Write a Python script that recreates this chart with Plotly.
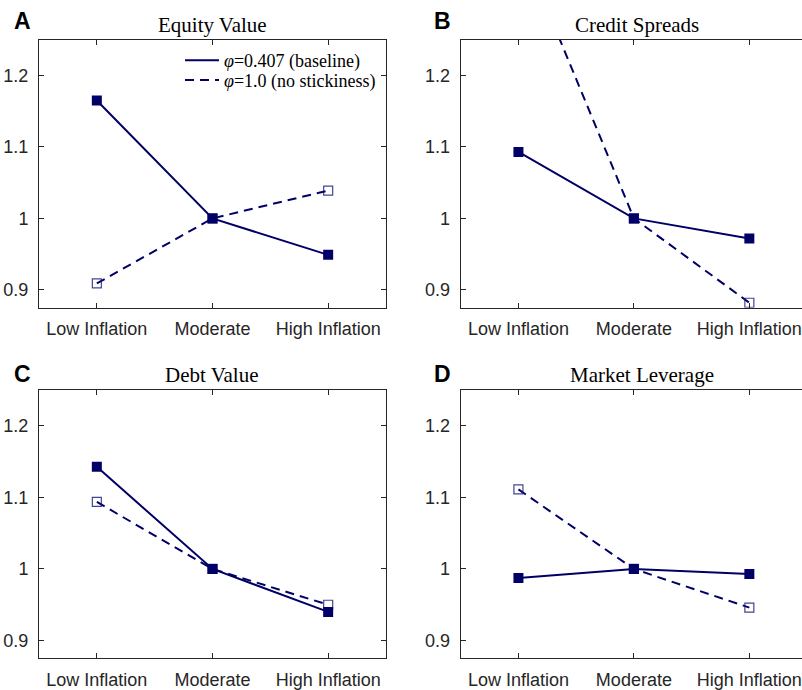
import plotly.graph_objects as go

categories = ["Low Inflation", "Moderate", "High Inflation"]

equity_base = [1.165, 1.0, 0.949]
equity_nostick = [0.909, 1.0, 1.039]
spreads_base = [1.093, 1.0, 0.972]
spreads_nostick = [1.39, 1.0, 0.882]
debt_base = [1.1425, 1.0, 0.940]
debt_nostick = [1.0935, 1.0, 0.950]
lev_base = [0.9875, 1.0, 0.993]
lev_nostick = [1.111, 1.0, 0.946]

panel_titles = ["Equity Value", "Credit Spreads", "Debt Value", "Market Leverage"]
panel_letters = ["A", "B", "C", "D"]
legend_names = ["<i>φ</i>=0.407 (baseline)", "<i>φ</i>=1.0 (no stickiness)"]

y_ticks = [0.9, 1.0, 1.1, 1.2]
y_ticktext = ["0.9", "1", "1.1", "1.2"]

W, H = 802, 690
NAVY = "#000066"
HOLLOW = "rgba(20,20,120,0.8)"
AX = "#262626"

# pixel geometry
left_x = [(39, 386), (460.7, 802), (39, 386), (460.7, 802)]
top_bottom = [(40, 310), (40, 310), (392.7, 663.3), (392.7, 663.3)]
x_ranges = [[-0.5, 2.5], [-0.5, 2.456], [-0.5, 2.5], [-0.5, 2.456]]
title_pos = [(212, 25), (637, 25), (212, 378), (642, 378)]
letter_pos = [(22, 21), (443, 21), (22, 377), (443, 377)]

series = [
    (equity_base, equity_nostick),
    (spreads_base, spreads_nostick),
    (debt_base, debt_nostick),
    (lev_base, lev_nostick),
]

fig = go.Figure()
layout = {}
annotations = []
for i, (base, nost) in enumerate(series):
    n = "" if i == 0 else str(i + 1)
    xa, ya = "x" + n, "y" + n
    fig.add_trace(go.Scatter(
        x=categories, y=nost, xaxis=xa, yaxis=ya, mode="lines+markers",
        line=dict(color=NAVY, width=2, dash="9px,6px"),
        marker=dict(symbol="square-open", size=9, color=HOLLOW, line=dict(width=1.2, color=HOLLOW)),
        showlegend=False, cliponaxis=True))
    fig.add_trace(go.Scatter(
        x=categories, y=base, xaxis=xa, yaxis=ya, mode="lines+markers",
        line=dict(color=NAVY, width=2),
        marker=dict(symbol="square", size=10, color=NAVY),
        showlegend=False, cliponaxis=True))
    (x0, x1), (t, b) = left_x[i], top_bottom[i]
    mirror_y = i in (0, 2)
    layout["xaxis" + n] = dict(
        domain=[x0 / W, x1 / W], range=x_ranges[i], type="category",
        anchor=ya, showline=True, linecolor=AX, linewidth=1, mirror="ticks",
        ticks="inside", ticklen=5, tickcolor=AX, showgrid=False, zeroline=False,
        tickfont=dict(family="Liberation Sans", size=18, color=AX),
        ticklabelstandoff=5, fixedrange=True)
    layout["yaxis" + n] = dict(
        domain=[1 - b / H, 1 - t / H], range=[0.875, 1.25],
        anchor=xa, showline=True, linecolor=AX, linewidth=1,
        mirror="ticks" if mirror_y else False,
        ticks="inside", ticklen=5, tickcolor=AX, showgrid=False, zeroline=False,
        tickvals=y_ticks, ticktext=y_ticktext,
        tickfont=dict(family="Liberation Sans", size=18, color=AX),
        ticklabelstandoff=6, fixedrange=True)
    tx, ty = title_pos[i]
    annotations.append(dict(
        text=panel_titles[i], x=tx / W, y=1 - ty / H, xref="paper", yref="paper",
        xanchor="center", yanchor="middle", showarrow=False,
        font=dict(family="Liberation Serif", size=21, color="black")))
    lx, ly = letter_pos[i]
    annotations.append(dict(
        text="<b>" + panel_letters[i] + "</b>", x=lx / W, y=1 - ly / H, xref="paper", yref="paper",
        xanchor="center", yanchor="middle", showarrow=False,
        font=dict(family="Liberation Sans", size=23, color="black")))

# legend-only entries (one per legend so their spacing matches the reference)
fig.add_trace(go.Scatter(x=[None], y=[None], mode="lines", name=legend_names[0],
                         line=dict(color=NAVY, width=2), showlegend=True, legend="legend"))
fig.add_trace(go.Scatter(x=[None], y=[None], mode="lines", name=legend_names[1],
                         line=dict(color=NAVY, width=2, dash="9px,6px"), showlegend=True,
                         legend="legend2"))

leg_common = dict(xanchor="left", yanchor="middle", bgcolor="rgba(0,0,0,0)", borderwidth=0,
                  font=dict(family="Liberation Serif", size=18, color="black"), itemwidth=34)

fig.update_layout(
    width=W, height=H, margin=dict(l=0, r=0, t=0, b=0),
    paper_bgcolor="white", plot_bgcolor="white",
    annotations=annotations,
    legend=dict(x=180 / W, y=1 - 61 / H, **leg_common),
    legend2=dict(x=180 / W, y=1 - 81 / H, **leg_common),
    **layout,
)

fig.write_html("out.html")
